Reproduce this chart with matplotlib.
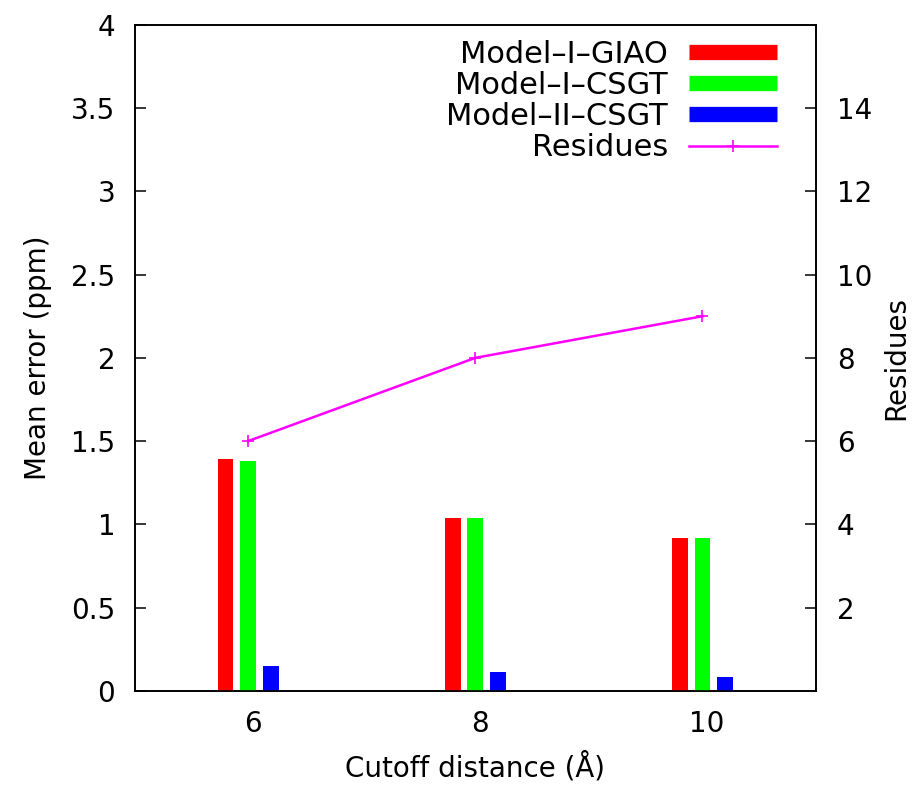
import numpy as np
import matplotlib
matplotlib.use("Agg")
import matplotlib.pyplot as plt
from matplotlib.lines import Line2D

# cutoff distances (categories) and mean errors in ppm
cutoffs = ["6", "8", "10"]
model_i_giao = [1.39, 1.04, 0.92]
model_i_csgt = [1.38, 1.04, 0.92]
model_ii_csgt = [0.15, 0.11, 0.08]
residues = [6, 8, 9]

plt.rcParams['font.family'] = ['DejaVu Sans']
plt.rcParams['font.size'] = 20

fig = plt.figure(figsize=(9.13, 7.85), dpi=100)
ax1 = fig.add_axes([0.1475, 0.1201, 0.7463, 0.8481])
ax2 = ax1.twinx()

x = np.arange(len(cutoffs))
width = 0.07
ax1.bar(x - 0.12, model_i_giao, width, color='#ff0000', zorder=3)
ax1.bar(x - 0.02, model_i_csgt, width, color='#00ff00', zorder=3)
ax1.bar(x + 0.08, model_ii_csgt, width, color='#0000ff', zorder=3)
ax2.plot(x - 0.02, residues, color='#ff00ff', lw=1.8, marker='+', ms=8, mew=1.2)

ax1.set_xlim(-0.52, 2.48)
ax1.set_ylim(0, 4)
ax2.set_ylim(0, 16)
ax1.set_xticks(x)
ax1.set_xticklabels(cutoffs)
ax1.set_yticks(np.arange(0, 4.01, 0.5))
ax1.set_yticklabels(['%g' % v for v in np.arange(0, 4.01, 0.5)])
ax2.set_yticks(np.arange(2, 15, 2))

ax1.tick_params(axis='x', length=0, pad=14)
ax1.tick_params(axis='y', direction='in', length=8, width=1.1, pad=14)
ax2.tick_params(axis='y', direction='in', length=8, width=1.1, pad=15)
for ax in (ax1, ax2):
    for s in ax.spines.values():
        s.set_linewidth(1.2)

ax1.set_xlabel('Cutoff distance (Å)', labelpad=10)
ax1.set_ylabel('Mean error (ppm)', labelpad=14)
ax2.set_ylabel('Residues', labelpad=7)

handles = [
    Line2D([], [], color='#ff0000', lw=11, solid_capstyle='butt'),
    Line2D([], [], color='#00ff00', lw=11, solid_capstyle='butt'),
    Line2D([], [], color='#0000ff', lw=11, solid_capstyle='butt'),
    Line2D([], [], color='#ff00ff', lw=1.8, marker='+', ms=8, mew=1.2),
]
labels = ['Model–I–GIAO', 'Model–I–CSGT', 'Model–II–CSGT', 'Residues']
ax2.legend(handles, labels, loc='upper right', bbox_to_anchor=(0.9427, 0.978),
           frameon=False, markerfirst=False, numpoints=1, fontsize=22,
           handlelength=2.88, labelspacing=0.075, handletextpad=0.69,
           borderaxespad=0, borderpad=0)

fig.savefig('out.png', dpi=100)
